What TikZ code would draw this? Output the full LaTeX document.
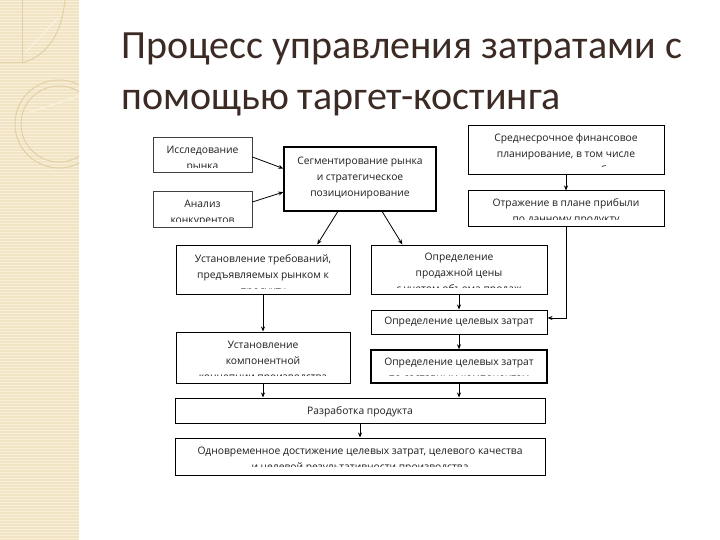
\documentclass[tikz,border=0pt]{standalone}
\usepackage{fontspec}
\setmainfont{Open Sans}
\newfontfamily\titlefont{Carlito}
\usetikzlibrary{arrows.meta,calc}
\definecolor{band}{HTML}{F1E4C4}
\definecolor{bandline}{HTML}{F8F0DB}
\definecolor{deco}{HTML}{E2D1A6}
\definecolor{titlecol}{HTML}{3B2B24}
\definecolor{txtcol}{HTML}{1E1E1E}
\tikzset{
  bx/.style={draw=black, line width=1pt, inner sep=0pt, fill=white},
  bxlight/.style={bx, draw=black!75, line width=0.8pt},
  bxthick/.style={bx, line width=1.5pt},
  tx/.style={font=\fontsize{10.3}{16}\selectfont, text=txtcol, align=center, inner sep=0pt},
  arr/.style={draw=black, line width=0.8pt, -{Stealth[length=5pt,width=4pt]}},
  ttl/.style={font=\titlefont\fontsize{40}{48}\selectfont, text=titlecol, inner sep=0pt, anchor=base west},
}
\newcommand\btext[4]{%
  \begin{scope}
    \clip (#1.north west) rectangle (#1.east |- 0,#3);
    \node[tx, anchor=north] (#1t) at (#1.north |- 0,#2) {#4};
  \end{scope}}
\begin{document}
\begin{tikzpicture}[x=1pt,y=-1pt]
\useasboundingbox (0,0) rectangle (720,540);
\fill[white] (0,0) rectangle (720,540);
% decorative band
\fill[band] (0,0) rectangle (79,540);
\foreach \yy in {1.5,4.5,...,540} \draw[bandline, line width=0.8pt] (0,\yy) -- (79,\yy);
\begin{scope}
  \clip (0,0) rectangle (79,540);
  \draw[deco, line width=1pt] (22,0) -- (22,63) -- (0,63);
  \draw[deco, line width=1pt] (22,63) .. controls (50,55) and (62,30) .. (65,0);
  \draw[bandline, line width=1.5pt] (25,53) -- (58,18);
  \draw[deco, line width=1pt] (59,124) circle[radius=44pt];
  \draw[deco, line width=1pt] (59,124) circle[radius=38pt];
  \draw[bandline, line width=1.5pt] (30,112) -- (79,96);
\end{scope}
% title
\node[ttl] (t1) at (121,59) {Процесс управления затратами с};
\node[ttl] (t2) at (121,110) {помощью таргет-костинга};
% boxes
\node[bxlight, minimum width=99pt, minimum height=35pt] (issl) at (202.5,154.5) {};
\node[bxlight, minimum width=99pt, minimum height=36pt] (anal) at (202.5,209) {};
\node[bx, line width=1.3pt, minimum width=152pt, minimum height=64pt] (segm) at (360,179) {};
\node[bx, minimum width=196pt, minimum height=49pt] (sred) at (566,150.5) {};
\node[bx, minimum width=196pt, minimum height=36pt] (otr) at (566,209) {};
\node[bx, minimum width=174pt, minimum height=49pt] (treb) at (263,269.5) {};
\node[bx, minimum width=176pt, minimum height=49pt] (cena) at (459,269.5) {};
\node[bx, minimum width=176pt, minimum height=24pt] (tzat) at (459,322) {};
\node[bx, minimum width=174pt, minimum height=51pt] (comp) at (263,357.5) {};
\node[bxthick, minimum width=176pt, minimum height=33pt] (tzatb) at (459,366.5) {};
\node[bx, minimum width=370pt, minimum height=25pt] (razr) at (360,410.5) {};
\node[bx, minimum width=370pt, minimum height=37pt] (odn) at (360,456.5) {};
% texts
\btext{issl}{146.3}{168}{Исследование\\рынка}
\btext{anal}{200.3}{222}{Анализ\\конкурентов}
\btext{segm}{157.3}{210}{Сегментирование рынка\\и стратегическое\\позиционирование}
\btext{sred}{133.3}{167}{Среднесрочное финансовое\\планирование, в том числе\\планирование прибыли}
\btext{otr}{198.3}{219.5}{Отражение в плане прибыли\\по данному продукту}
\btext{treb}{254.3}{288.5}{Установление требований,\\предъявляемых рынком к\\продукту}
\btext{cena}{253.3}{287.5}{Определение\\продажной цены\\с учетом объема продаж}
\btext{tzat}{317.3}{333}{Определение целевых затрат}
\btext{comp}{341.3}{375.5}{Установление\\компонентной\\концепции производства}
\btext{tzatb}{358.3}{375.5}{Определение целевых затрат\\по составным компонентам}
\btext{razr}{406.3}{422}{Разработка продукта}
\btext{odn}{447.3}{466.5}{Одновременное достижение целевых затрат, целевого качества\\и целевой результативности производства}
% connectors
\draw[arr] ([yshift=-2.5pt]issl.east) -- ($(segm.north west)!0.34!(segm.south west)$);
\draw[arr] ([yshift=7pt]anal.east) -- ($(segm.north west)!0.70!(segm.south west)$);
\draw[arr] ($(segm.south west)!0.355!(segm.south east)$) -- ($(treb.north west)!0.81!(treb.north east)$);
\draw[arr] ($(segm.south west)!0.645!(segm.south east)$) -- ($(cena.north west)!0.18!(cena.north east)$);
\draw[arr] (sred.south) -- (otr.north);
\draw[arr] (otr.south) |- ([yshift=4pt]tzat.east);
\draw[arr] (treb.south) -- (comp.north);
\draw[arr] (cena.south) -- (tzat.north);
\draw[arr] (tzat.south) -- (tzatb.north);
\draw[arr] (comp.south) -- (comp.south |- razr.north);
\draw[arr] (tzatb.south) -- (tzatb.south |- razr.north);
\draw[arr] (razr.south) -- (odn.north);
\end{tikzpicture}
\end{document}
